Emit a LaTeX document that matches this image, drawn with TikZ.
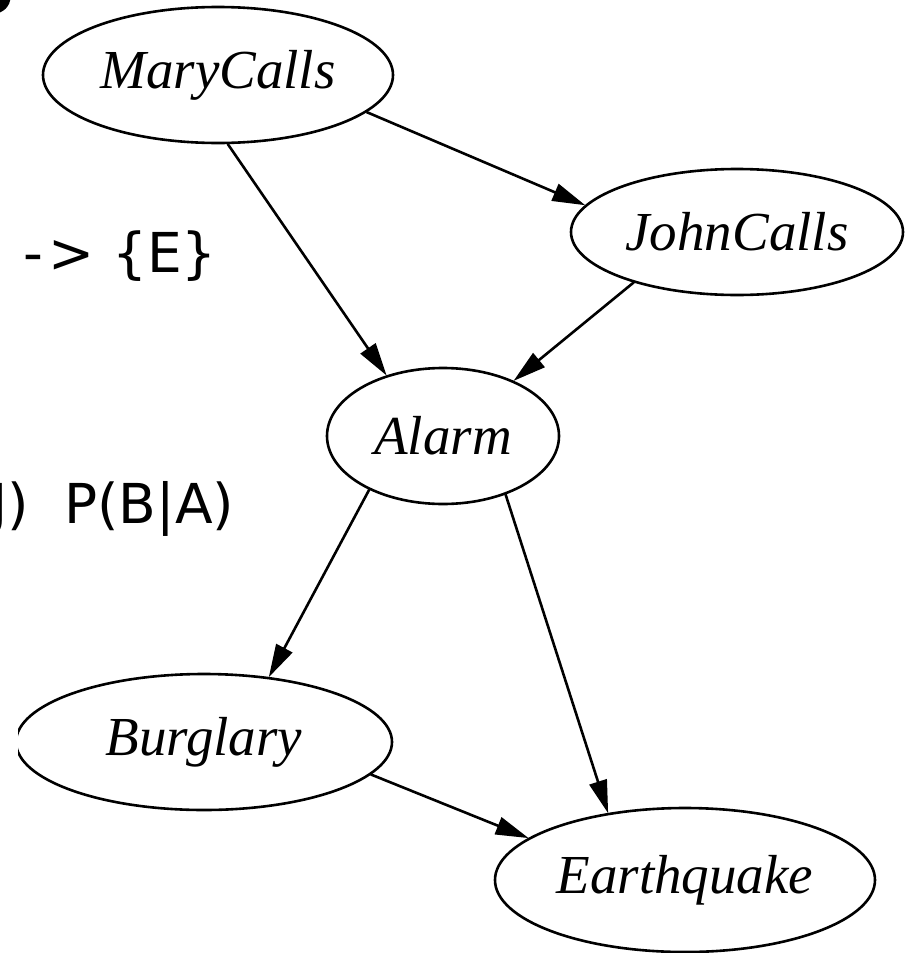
\documentclass[tikz,border=0pt]{standalone}
\usepackage{fontspec}
\setmainfont{Liberation Serif}
\newfontfamily\sansf{DejaVu Sans}
\usetikzlibrary{shapes.geometric,arrows.meta}
\tikzset{
  ell/.style={draw, ellipse, line width=2.6pt, inner sep=0pt, outer sep=1pt,
    font=\fontsize{55}{60}\selectfont\itshape},
  edge/.style={line width=2.6pt, -{Triangle[length=33pt,width=18pt]}},
  slide/.style={font=\sansf\fontsize{55}{60}\selectfont, inner sep=0pt, anchor=base west}
}
\begin{document}
\begin{tikzpicture}[x=1pt,y=-1pt]
\useasboundingbox (0,0) rectangle (908,953);
\clip (0,0) rectangle (908,953);
\fill[white] (0,0) rectangle (908,953);
% slide fragments
\fill[black] (-6,-3) circle (16.5);
\node[slide] (t1) at (23,272) {-\kern0.1em>~\{E\}};
\node[slide] (t2) at (-8.5,523) {J)~~P(B|A)};
% nodes
\node[ell, minimum width=350pt, minimum height=136pt] (M) at (218,75) {MaryCalls};
\node[ell, minimum width=332pt, minimum height=126pt] (J) at (737,232) {JohnCalls};
\node[ell, minimum width=232pt, minimum height=136pt] (A) at (443,436) {Alarm};
\begin{scope}
\clip (18,0) rectangle (908,953);
\node[ell, minimum width=376pt, minimum height=136pt] (B) at (204,742) {Burglary};
\end{scope}
\node[ell, minimum width=380pt, minimum height=144pt] (E) at (685,880) {Earthquake};
% edges
\draw[edge] (M.-14) -- (J.170);
\draw[edge] (M.-82.5) -- (A.133.6);
\draw[edge] (J.206) -- (A.38);
\draw[edge] (A.-144) -- (B.45.4);
\draw[edge] (A.-43) -- (E.139.5);
\draw[edge] (B.-11.8) -- (E.165.4);
\end{tikzpicture}
\end{document}
